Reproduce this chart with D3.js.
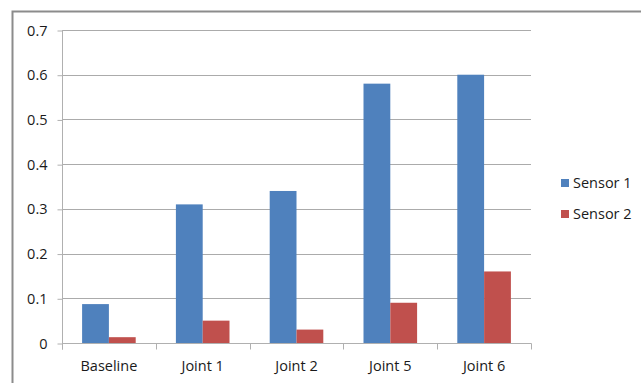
<!DOCTYPE html>
<html>
<head>
<meta charset="utf-8">
<script src="https://cdn.jsdelivr.net/npm/d3@7"></script>
<style>
  html, body { margin: 0; padding: 0; background: #fff; }
  svg { display: block; font-family: "Open Sans", "Liberation Sans", sans-serif; }
</style>
</head>
<body>
<svg id="chart" width="641" height="383"></svg>
<script>
// Chart data
const categories = ["Baseline", "Joint 1", "Joint 2", "Joint 5", "Joint 6"];
const seriesNames = ["Sensor 1", "Sensor 2"];
const sensor1 = [0.087, 0.31, 0.34, 0.58, 0.60];
const sensor2 = [0.013, 0.05, 0.03, 0.09, 0.16];
const yTicks = [0, 0.1, 0.2, 0.3, 0.4, 0.5, 0.6, 0.7];
const colors = ["#4F81BD", "#C0504D"];

const svg = d3.select("#chart");
const W = 641, H = 383;

// Outer chart border
svg.append("rect")
  .attr("x", 12.5).attr("y", 11.5)
  .attr("width", W + 10).attr("height", H + 10)
  .attr("fill", "none").attr("stroke", "#8c8c8c").attr("stroke-width", 2);

const plot = { left: 62, right: 531, top: 30, bottom: 343 };

const x = d3.scaleBand().domain(categories).range([plot.left, plot.right]).paddingInner(0).paddingOuter(0);
// gap width 150% of a bar: band = 2 bars + 1.5 bar
const barW = x.bandwidth() / 3.5;
const xSub = d3.scaleBand().domain(seriesNames)
  .range([0.75 * barW, 2.75 * barW]).padding(0);

const y = d3.scaleLinear().domain([0, 0.7]).range([plot.bottom, plot.top]);

// Gridlines
svg.append("g").selectAll("line").data(yTicks.filter(d => d > 0)).join("line")
  .attr("x1", plot.left).attr("x2", plot.right)
  .attr("y1", d => Math.round(y(d)) + 0.5).attr("y2", d => Math.round(y(d)) + 0.5)
  .attr("stroke", "#ababab").attr("stroke-width", 1);

// Y axis
const yAxis = d3.axisLeft(y).tickValues(yTicks).tickSize(5).tickPadding(10)
  .tickFormat(d => d === 0 ? "0" : d3.format(".1f")(d));
const gy = svg.append("g").attr("transform", `translate(${plot.left + 0.5},0.5)`).call(yAxis);
gy.select(".domain").attr("stroke", "#b0b0b0").attr("d", `M-0,${plot.top - 0.5}V${plot.bottom + 6}`);
gy.selectAll(".tick line").attr("stroke", "#b0b0b0");
gy.selectAll(".tick text").attr("fill", "#1a1a1a").style("font-size", "14.5px")
  .style("font-family", "'Open Sans', sans-serif");

// Bars
const groups = svg.append("g").selectAll("g").data(categories).join("g")
  .attr("transform", c => `translate(${x(c)},0)`);
groups.selectAll("rect")
  .data((c, i) => [
    { s: seriesNames[0], v: sensor1[i], k: 0 },
    { s: seriesNames[1], v: sensor2[i], k: 1 }
  ])
  .join("rect")
  .attr("x", d => xSub(d.s))
  .attr("width", xSub.bandwidth())
  .attr("y", d => y(d.v))
  .attr("height", d => y(0) - y(d.v))
  .attr("fill", d => colors[d.k]);

// X axis
const xAxis = d3.axisBottom(x).tickSize(0).tickPadding(17);
const gx = svg.append("g").attr("transform", `translate(0,${plot.bottom + 0.5})`).call(xAxis);
gx.select(".domain").attr("stroke", "#b0b0b0").attr("d", `M${plot.left},0H${plot.right + 0.5}`);
gx.selectAll(".tick text").attr("fill", "#1a1a1a").style("font-size", "14.5px")
  .style("font-family", "'Open Sans', sans-serif");
// Category boundary tick marks
const bounds = categories.map(c => x(c)).concat([plot.right]);
gx.append("g").selectAll("line").data(bounds).join("line")
  .attr("x1", d => Math.round(d) + 0.5).attr("x2", d => Math.round(d) + 0.5)
  .attr("y1", 0).attr("y2", 6).attr("stroke", "#b0b0b0");

// Legend
const legend = svg.append("g").attr("transform", "translate(561,0)");
const legendY = [183, 214];
seriesNames.forEach((name, i) => {
  legend.append("rect").attr("x", 0).attr("y", legendY[i] - 4)
    .attr("width", 8).attr("height", 8).attr("fill", colors[i]);
  legend.append("text").attr("x", 12).attr("y", legendY[i]).attr("dy", "0.35em")
    .attr("fill", "#1a1a1a").style("font-size", "14.5px").text(name);
});
</script>
</body>
</html>
